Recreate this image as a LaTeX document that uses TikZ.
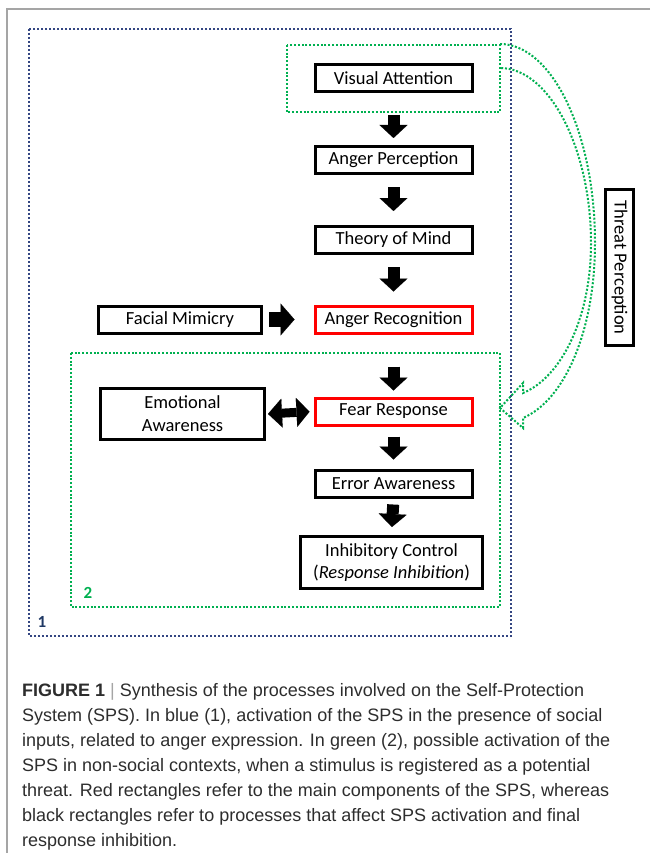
\documentclass[tikz,border=0pt]{standalone}
\usepackage{fontspec}
\setmainfont{Carlito}
\newfontfamily\capfont{Liberation Sans}
\usetikzlibrary{arrows.meta,calc}
\definecolor{dgreen}{RGB}{0,176,80}
\definecolor{dblue}{RGB}{52,70,130}
\definecolor{navy}{RGB}{31,56,100}
\definecolor{capgray}{RGB}{45,45,45}
\definecolor{framegray}{RGB}{165,165,165}
\begin{document}
\begin{tikzpicture}[x=1pt,y=-1pt,
  box/.style={draw=black, line width=3pt, minimum width=157pt, minimum height=27pt,
    inner sep=0pt, font=\fontsize{18.5}{23}\selectfont, align=center},
  redbox/.style={box, draw=red},
  downarrow/.style={line width=12pt, -{Triangle[length=13pt,width=28pt,line width=0.1pt]}},
  rightarrow/.style={line width=15pt, -{Triangle[length=14pt,width=32pt,line width=0.1pt]}},
  botharrow/.style={line width=9pt, {Triangle[length=14pt,width=29pt,line width=0.1pt]}-{Triangle[length=13pt,width=29pt,line width=0.1pt]}},
  bluedot/.style={draw=dblue, line width=2pt, dash pattern=on 2pt off 2pt},
  greendot/.style={draw=dgreen, line width=2pt, dash pattern=on 2pt off 1.8pt},
]
\useasboundingbox (0,0) rectangle (650,853);
% page frame
\draw[framegray, line width=1.5pt] (650,9) -- (7,9) -- (7,853);

% grouping boxes
\draw[bluedot] (29,29) rectangle (511,636);
\draw[greendot] (287,45) rectangle (500,112);
\draw[greendot] (71,353) rectangle (500,607);

% curved hollow arrow (threat perception)
\draw[greendot, line join=miter]
  (500,44) .. controls (552,44) and (595,133) .. (595,243)
  .. controls (595,330) and (565,400) .. (523,418)
  -- (523,428) -- (500,408) -- (523,383) -- (523,393)
  .. controls (560,378) and (591,320) .. (591,243)
  .. controls (591,150) and (550,68) .. (500,68);

% nodes
\node[box] (va) at (393.5,78) {Visual Attention};
\node[box] (ap) at (393.5,160) {Anger Perception};
\node[box] (tom) at (393.5,240) {Theory of Mind};
\node[redbox] (ar) at (393.5,319.5) {Anger Recognition};
\node[box, minimum width=163pt] (fm) at (180,319.5) {Facial Mimicry};
\node[redbox] (fr) at (393.5,411.5) {Fear Response};
\node[box, minimum width=164pt, minimum height=51pt] (ea) at (182.5,414) {Emotional\\Awareness};
\node[box] (err) at (393.5,483.5) {Error Awareness};
\node[box, minimum width=182pt, minimum height=52pt, font=\fontsize{18.5}{22}\selectfont] (ic) at (391.5,562.5) {Inhibitory Control\\(\textit{Response Inhibition})};
\node[box, rotate=-90, minimum width=156pt, minimum height=28pt] (tp) at (619.5,267.5) {Threat Perception};

% labels
\node[font=\bfseries\fontsize{17}{18}\selectfont, text=navy] (l1) at (42,622) {1};
\node[font=\bfseries\fontsize{17}{18}\selectfont, text=dgreen] (l2) at (88,593) {2};

% block arrows
\draw[downarrow, shorten <=22pt, shorten >=7pt] (va.south) -- (ap.north);
\draw[downarrow, shorten <=12pt, shorten >=14pt] (ap.south) -- (tom.north);
\draw[downarrow, shorten <=12pt, shorten >=13pt] (tom.south) -- (ar.north);
\draw[downarrow, shorten <=32pt, shorten >=6pt] (ar.south) -- (fr.north);
\draw[downarrow, shorten <=10pt, shorten >=9pt] (fr.south) -- (err.north);
\draw[downarrow, shorten <=6pt, shorten >=8pt] (err.south) -- (ic.north);
\draw[rightarrow, shorten <=6pt, shorten >=19pt] (fm.east) -- (ar.west);
\draw[botharrow, shorten <=2pt, shorten >=4pt] (ea.east) -- (fr.west);

% caption
\node[anchor=base west, inner sep=0pt, align=left, text=capgray,
  font=\capfont\fontsize{18}{25}\selectfont] (cap) at (22,846)
  {\textbf{FIGURE 1} {\color{framegray}|} Synthesis of the processes involved on the Self-Protection\\
   System (SPS). In blue (1), activation of the SPS in the presence of social\\
   inputs, related to anger expression. In green (2), possible activation of the\\
   SPS in non-social contexts, when a stimulus is registered as a potential\\
   threat. Red rectangles refer to the main components of the SPS, whereas\\
   black rectangles refer to processes that affect SPS activation and final\\
   response inhibition.};
\end{tikzpicture}
\end{document}
